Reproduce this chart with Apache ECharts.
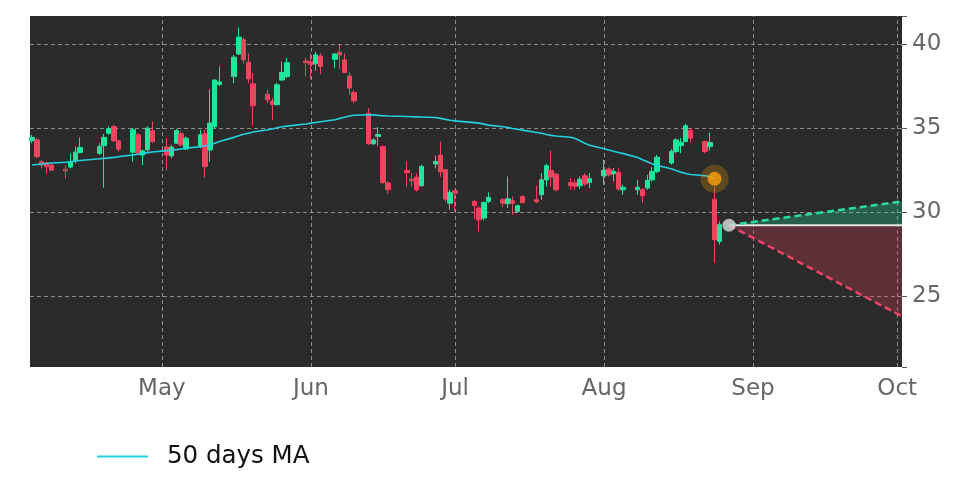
<!DOCTYPE html>
<html>
<head>
    <meta charset="utf-8">
    <title>50 days MA</title>
    <script src="https://cdn.jsdelivr.net/npm/echarts@6/dist/echarts.min.js"></script>
    <style>
        html, body { margin: 0; padding: 0; background: #fff; }
        #main { width: 972px; height: 486px; }
    </style>
</head>
<body>
    <div id="main"></div>
    <script type="text/javascript">
    var year = 2022;

    // trading days (MM-DD)
    var days = ['04-04','04-05','04-06','04-07','04-08','04-11','04-12','04-13','04-14','04-18','04-19','04-20','04-21','04-22','04-25','04-26','04-27','04-28','04-29',
        '05-02','05-03','05-04','05-05','05-06','05-09','05-10','05-11','05-12','05-13','05-16','05-17','05-18','05-19','05-20','05-23','05-24','05-25','05-26','05-27',
        '05-31','06-01','06-02','06-03','06-06','06-07','06-08','06-09','06-10','06-13','06-14','06-15','06-16','06-17','06-21','06-22','06-23','06-24','06-27','06-28','06-29','06-30','07-01',
        '07-05','07-06','07-07','07-08','07-11','07-12','07-13','07-14','07-15','07-18','07-19','07-20','07-21','07-22','07-25','07-26','07-27','07-28','07-29',
        '08-01','08-02','08-03','08-04','08-05','08-08','08-09','08-10','08-11','08-12','08-15','08-16','08-17','08-18','08-19','08-22','08-23','08-24','08-25'];

    var opens = [34.25,34.3,33.0,32.85,32.8,32.55,32.68,33.05,33.55,33.5,33.95,34.7,35.1,34.24,33.57,34.6,33.4,33.71,34.84,
        33.88,33.35,34.1,34.66,33.75,33.9,34.66,33.7,35.1,37.6,38.07,39.42,40.26,38.93,37.64,37.02,36.6,36.4,37.87,38.07,
        39.0,38.95,38.83,39.3,39.1,39.52,39.07,38.11,37.12,35.89,34.07,34.5,33.9,31.73,32.48,31.96,32.08,31.57,32.87,33.38,32.52,30.53,31.27,
        30.63,30.24,29.64,30.63,30.73,30.5,30.67,30.04,30.93,30.73,31.03,31.92,32.48,32.26,31.76,31.73,31.57,32.16,31.76,
        32.16,32.56,32.28,32.36,31.33,31.33,31.33,31.43,31.92,32.42,32.92,33.61,33.96,34.2,34.86,34.2,33.9,30.77,28.25];
    var closes = [34.45,33.3,32.8,32.7,32.5,32.45,33.01,33.57,33.85,33.9,34.45,34.96,34.24,33.75,34.9,33.51,33.65,35.0,34.2,
        33.4,33.87,34.86,34.0,34.4,34.6,32.71,35.3,37.87,37.75,39.23,40.42,39.07,37.93,36.33,36.68,36.4,37.58,38.31,38.9,
        38.9,38.8,39.36,38.67,39.42,39.36,38.31,37.38,36.63,34.07,34.3,34.62,31.76,31.33,32.36,31.86,31.33,32.72,33.01,32.4,30.77,31.17,31.13,
        30.39,29.54,30.57,30.87,30.53,30.79,30.53,30.38,30.57,30.61,31.92,32.76,32.08,31.33,31.57,31.53,31.96,31.68,31.98,
        32.48,32.22,32.42,31.37,31.47,31.47,30.97,31.88,32.42,33.27,33.61,34.3,34.16,35.14,34.4,33.61,34.14,28.35,29.25];
    var lows = [34.1,33.2,32.6,32.3,32.45,32.0,32.6,32.9,33.5,33.4,31.45,34.6,34.2,33.6,33.0,33.4,32.8,33.6,34.1,
        32.5,33.2,34.05,33.9,33.7,33.8,32.05,33.0,35.0,37.5,37.68,39.35,38.85,37.68,35.15,36.5,35.5,36.35,37.8,38.0,
        38.1,37.92,38.43,38.21,38.57,38.51,38.27,36.98,36.49,34.0,34.0,33.95,31.68,31.09,31.5,31.52,31.23,31.52,32.6,32.1,30.63,30.14,30.04,
        29.58,28.85,29.5,30.53,30.3,30.24,29.84,29.94,30.5,30.53,30.73,31.52,31.52,31.23,31.33,31.3,31.36,31.56,31.43,
        31.63,32.12,31.82,31.27,31.03,31.03,30.53,31.33,31.82,32.32,32.82,33.51,33.51,34.17,34.14,33.51,33.67,26.96,28.05];
    var highs = [34.6,34.4,33.1,33.0,32.9,32.8,33.5,33.9,34.44,34.1,34.65,35.1,35.2,34.3,35.0,34.7,33.7,35.1,35.4,
        34.4,34.0,34.95,34.8,34.5,34.9,34.9,37.3,37.9,38.67,39.36,41.0,40.4,39.46,38.3,37.3,36.8,37.7,38.96,39.17,
        39.2,39.46,39.56,39.46,39.46,39.96,39.46,38.37,37.28,36.19,34.4,35.06,33.95,31.82,33.03,32.32,32.32,32.82,33.35,34.2,32.56,31.33,31.33,
        30.73,30.33,30.63,31.17,30.83,32.12,30.93,30.43,31.0,31.56,32.32,32.88,33.67,32.32,32.02,31.92,32.12,32.32,32.32,
        33.11,32.66,32.62,32.6,31.63,31.92,31.43,32.22,32.68,33.41,33.75,34.4,34.4,35.26,35.0,34.26,34.74,31.5,29.44];
    var ma50 = [32.8,32.83,32.86,32.9,32.92,32.97,33.0,33.04,33.07,33.18,33.2,33.23,33.26,33.3,33.4,33.44,33.48,33.54,33.58,
        33.66,33.68,33.72,33.76,33.8,33.9,33.95,34.0,34.1,34.2,34.45,34.55,34.63,34.7,34.77,34.9,34.95,35.02,35.08,35.12,
        35.25,35.3,35.34,35.38,35.5,35.58,35.65,35.72,35.77,35.8,35.79,35.76,35.74,35.72,35.69,35.68,35.67,35.66,35.63,35.58,35.52,35.47,35.43,
        35.33,35.3,35.24,35.18,35.08,35.04,34.98,34.93,34.88,34.74,34.7,34.62,34.57,34.53,34.46,34.38,34.25,34.1,33.98,
        33.77,33.7,33.62,33.55,33.48,33.25,33.12,33.0,32.88,32.78,32.58,32.47,32.38,32.3,32.24,32.16,32.12,31.98,null];

    // marker points
    var eventDay = '08-24', eventValue = 31.98;
    var lastDay = '08-27', lastValue = 29.22;

    // projection cone
    var projDays = ['08-27', '10-02'];
    var projBase = [29.22, 29.22];
    var projUpper = [29.22, 30.63];
    var projLower = [29.22, 23.79];

    // axis ticks
    var monthTicks = ['05-01','06-01','07-01','08-01','09-01','10-01'];
    var yTicks = [25, 30, 35, 40];
    var monthNames = ['Jan','Feb','Mar','Apr','May','Jun','Jul','Aug','Sep','Oct','Nov','Dec'];

    function ts(md) {
        var p = md.split('-');
        return new Date(year, +p[0] - 1, +p[1]).getTime();
    }

    var candles = days.map(function (d, i) {
        return [ts(d), opens[i], closes[i], lows[i], highs[i]];
    });
    var maData = days.map(function (d, i) { return [ts(d), ma50[i]]; });
    var projX = projDays.map(ts);
    function pairs(vals) { return projX.map(function (x, i) { return [x, vals[i]]; }); }
    function diff(a, b) { return a.map(function (v, i) { return v - b[i]; }); }
    var monthTs = monthTicks.map(ts);

    var grey = '#666666';
    var font = 'DejaVu Sans';

    var myChart = echarts.init(document.getElementById('main'));
    var option = {
        animation: false,
        textStyle: { fontFamily: font },
        grid: {
            left: 30, right: 70, top: 16, bottom: 119,
            show: true, backgroundColor: '#2b2b2b', borderWidth: 0
        },
        legend: {
            data: [{ name: '50 days MA', icon: 'rect' }],
            left: 97, top: 444, padding: 0,
            itemWidth: 51, itemHeight: 2,
            textStyle: { fontSize: 24.5, color: '#111', fontFamily: font, padding: [0, 0, 0, 14] }
        },
        xAxis: {
            type: 'time',
            min: new Date(year, 3, 3, 13, 30).getTime(),
            max: new Date(year, 9, 2, 0, 0).getTime(),
            splitNumber: 6,
            axisLine: { show: false },
            axisTick: { show: false },
            axisLabel: {
                color: grey, fontSize: 23, margin: 11, fontFamily: font,
                formatter: function (v) {
                    var d = new Date(v);
                    return (d.getDate() === 1 && d.getHours() === 0) ? monthNames[d.getMonth()] : '';
                }
            },
            splitLine: { show: false }
        },
        yAxis: {
            type: 'value',
            position: 'right',
            min: 20.77, max: 41.68,
            axisLine: { show: false },
            axisTick: { show: true, length: 5, lineStyle: { color: '#555' } },
            axisLabel: {
                color: grey, fontSize: 23, margin: 10, fontFamily: font,
                formatter: function (v) { return v % 5 === 0 ? String(v) : ''; }
            },
            splitLine: { show: false }
        },
        series: [
            {
                name: 'price',
                type: 'candlestick',
                data: candles,
                barWidth: 5,
                z: 3,
                itemStyle: {
                    color: '#22e59c', color0: '#f0435e',
                    borderColor: '#22e59c', borderColor0: '#f0435e', borderWidth: 1
                },
                markLine: {
                    silent: true, symbol: 'none', z: 1,
                    label: { show: false },
                    lineStyle: { color: '#8c8c8c', type: [4, 3], width: 1 },
                    data: monthTs.map(function (x) { return { xAxis: x }; })
                        .concat(yTicks.map(function (v) { return { yAxis: v }; }))
                }
            },
            {
                name: '50 days MA',
                type: 'line',
                data: maData,
                showSymbol: false,
                connectNulls: false,
                z: 4,
                color: '#22d0de',
                lineStyle: { color: '#22d0de', width: 1.6 }
            },
            {
                type: 'line', stack: 'red', data: pairs(projLower), showSymbol: false,
                lineStyle: { opacity: 0 }, z: 2
            },
            {
                type: 'line', stack: 'red', data: pairs(diff(projBase, projLower)), showSymbol: false,
                lineStyle: { opacity: 0 }, areaStyle: { color: 'rgba(240,67,94,0.26)', opacity: 1 }, z: 2
            },
            {
                type: 'line', stack: 'green', data: pairs(projBase), showSymbol: false,
                lineStyle: { opacity: 0 }, z: 2
            },
            {
                type: 'line', stack: 'green', data: pairs(diff(projUpper, projBase)), showSymbol: false,
                lineStyle: { opacity: 0 }, areaStyle: { color: 'rgba(34,229,156,0.28)', opacity: 1 }, z: 2
            },
            {
                type: 'line', data: pairs(projBase), showSymbol: false, z: 5,
                lineStyle: { color: '#e6e6e6', width: 2 }
            },
            {
                type: 'line', data: pairs(projUpper), showSymbol: false, z: 5,
                lineStyle: { color: '#2fdc9f', width: 2.5, type: [7, 4] }
            },
            {
                type: 'line', data: pairs(projLower), showSymbol: false, z: 5,
                lineStyle: { color: '#ec4468', width: 2.5, type: [7, 4] }
            },
            {
                type: 'scatter', z: 6, silent: true,
                data: [[ts(eventDay), eventValue]],
                symbolSize: 28,
                itemStyle: { color: 'rgba(255,165,0,0.3)' }
            },
            {
                type: 'scatter', z: 7, silent: true,
                data: [[ts(eventDay), eventValue]],
                symbolSize: 14,
                itemStyle: { color: '#ff9f0a' }
            },
            {
                type: 'scatter', z: 7, silent: true,
                data: [[ts(lastDay), lastValue]],
                symbolSize: 13,
                itemStyle: { color: '#dcdcdc' }
            }
        ]
    };
    myChart.setOption(option);
    </script>
</body>
</html>
